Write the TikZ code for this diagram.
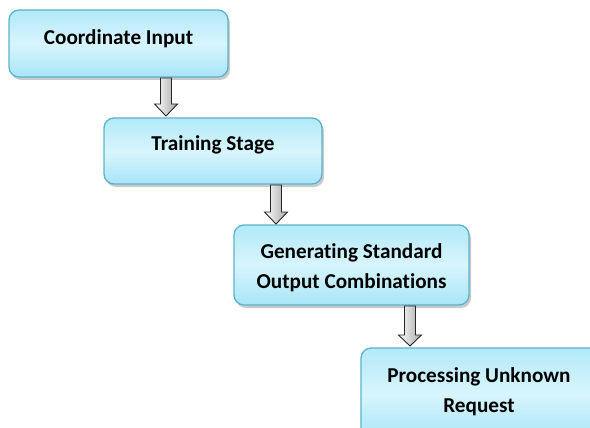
\documentclass[tikz,border=0pt]{standalone}
\usepackage{fontspec}
\setmainfont{Carlito}[Ligatures=NoCommon]
\usetikzlibrary{shadows,calc}
\definecolor{boxedge}{HTML}{5BB3CB}
\definecolor{boxtop}{HTML}{B2E9F8}
\definecolor{boxmid}{HTML}{D8F5FD}
\definecolor{boxbot}{HTML}{A8E5F7}
\tikzset{
  stagebox/.style={draw=boxedge, line width=1.3pt, rounded corners=10pt,
    top color=boxtop, bottom color=boxbot, middle color=boxmid,
    drop shadow={shadow xshift=2pt, shadow yshift=-3pt, opacity=0.35, fill=black!60},
    inner sep=0pt},
  stagetext/.style={font=\bfseries\fontsize{21.2}{30}\selectfont, align=center, text=black},
  flowarrow/.style={draw=black!85, line width=0.9pt, line join=miter,
    left color=white, right color=black!35}
}
\begin{document}
\begin{tikzpicture}[x=1pt,y=-1pt]
\useasboundingbox (0,0) rectangle (590,428);
% stage boxes
\path[stagebox] (9,10) rectangle (228,77);
\node[stagetext] (s1) at (118.5,39) {Coordinate Input};
\path[stagebox] (104,118) rectangle (322,184);
\node[stagetext] (s2) at (213,145) {Training Stage};
\path[stagebox] (234,225) rectangle (469,305);
\node[stagetext] (s3) at (351.5,268) {Generating Standard\\Output Combinations};
\path[stagebox] (361,348) rectangle (600,440);
\node[stagetext] (s4) at (479,391.5) {Processing Unknown\\Request};
% block arrows between the stages
\newcommand{\blockarrow}[4]{% centre x, top y, head start y, tip y
  \path[flowarrow] (#1-5.5,#2) -- (#1+5.5,#2) -- (#1+5.5,#3) -- (#1+11.5,#3)
    -- (#1,#4) -- (#1-11.5,#3) -- (#1-5.5,#3) -- cycle;}
\blockarrow{166}{78}{104}{116}
\blockarrow{276}{185}{212}{224}
\blockarrow{410}{306}{335}{346}
\end{tikzpicture}
\end{document}
